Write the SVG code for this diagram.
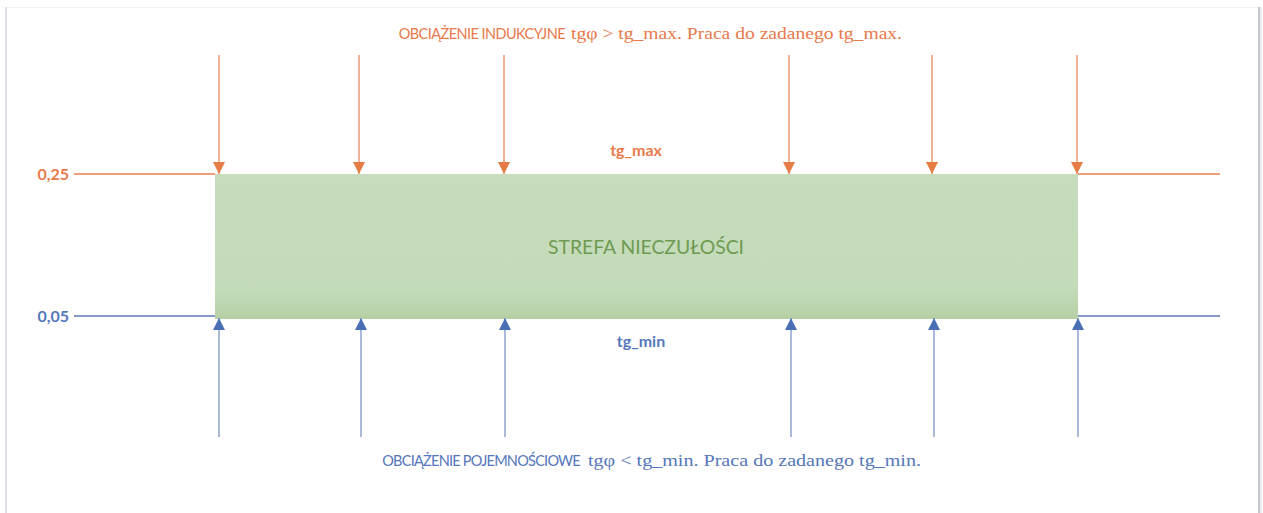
<svg xmlns="http://www.w3.org/2000/svg" width="1263" height="513" viewBox="0 0 1263 513">
<defs>
<linearGradient id="gz" x1="0" y1="0" x2="0" y2="1">
<stop offset="0" stop-color="#c6dcbc"/>
<stop offset="0.8" stop-color="#c4dbb9"/>
<stop offset="1" stop-color="#b5cfa4"/>
</linearGradient>
<marker id="ao" viewBox="0 0 12 12" markerWidth="12" markerHeight="12" refX="12" refY="6" orient="auto" markerUnits="userSpaceOnUse">
<path d="M0,0 L12,6 L0,12 Z" fill="#e57b45"/>
</marker>
<marker id="ab" viewBox="0 0 12 12" markerWidth="12" markerHeight="12" refX="12" refY="6" orient="auto" markerUnits="userSpaceOnUse">
<path d="M0,0 L12,6 L0,12 Z" fill="#4a6fb5"/>
</marker>
</defs>
<style>
.sans{font-family:Lato,"Open Sans","Liberation Sans",sans-serif}
.serif{font-family:"Liberation Serif",serif}
.or{fill:#e8794a}
.bl{fill:#5577bb}
.lo{stroke:#e8804f;stroke-width:1.5;fill:none}
.lb{stroke:#5a78b8;stroke-width:1.5;fill:none}
.ao{stroke:#eb9a78;stroke-width:1.5;marker-end:url(#ao)}
.ab{stroke:#8fa3cf;stroke-width:1.5;marker-end:url(#ab)}
</style>
<rect width="1263" height="513" fill="#ffffff"/>
<g id="frame">
<line x1="6" y1="7.5" x2="1258" y2="7.5" stroke="#f2f2f2" stroke-width="1"/>
<line x1="6" y1="7" x2="6" y2="513" stroke="#d3d6df" stroke-width="1.5"/>
<line x1="1259" y1="7" x2="1259" y2="513" stroke="#c4c8d2" stroke-width="2"/>
<line x1="1261" y1="7" x2="1261" y2="513" stroke="#e4e6eb" stroke-width="1.5"/>
</g>
<g id="zone">
<rect x="215" y="174" width="863" height="145" fill="url(#gz)"/>
<text x="646" y="254" text-anchor="middle" class="sans" font-size="19" fill="#6e9a52" textLength="196" lengthAdjust="spacingAndGlyphs">STREFA NIECZUŁOŚCI</text>
</g>
<g id="tgmax-line">
<line x1="74" y1="174" x2="215" y2="174" class="lo"/>
<line x1="1078" y1="174" x2="1220" y2="174" class="lo"/>
<text x="69" y="180" text-anchor="end" class="sans or" font-size="16" font-weight="bold">0,25</text>
<text x="636" y="156" text-anchor="middle" class="sans or" font-size="16" font-weight="bold">tg_max</text>
</g>
<g id="tgmin-line">
<line x1="74" y1="316" x2="215" y2="316" class="lb"/>
<line x1="1078" y1="316" x2="1220" y2="316" class="lb"/>
<text x="69" y="322" text-anchor="end" class="sans bl" font-size="16" font-weight="bold">0,05</text>
<text x="641" y="347" text-anchor="middle" class="sans bl" font-size="16" font-weight="bold">tg_min</text>
</g>
<g id="connectors">
<line x1="219" y1="55" x2="219" y2="174" class="ao"/>
<line x1="359" y1="55" x2="359" y2="174" class="ao"/>
<line x1="504" y1="55" x2="504" y2="174" class="ao"/>
<line x1="789" y1="55" x2="789" y2="174" class="ao"/>
<line x1="932" y1="55" x2="932" y2="174" class="ao"/>
<line x1="1077" y1="55" x2="1077" y2="174" class="ao"/>
<line x1="219" y1="437" x2="219" y2="318" class="ab"/>
<line x1="361" y1="437" x2="361" y2="318" class="ab"/>
<line x1="505" y1="437" x2="505" y2="318" class="ab"/>
<line x1="791" y1="437" x2="791" y2="318" class="ab"/>
<line x1="934" y1="437" x2="934" y2="318" class="ab"/>
<line x1="1078" y1="437" x2="1078" y2="318" class="ab"/>
</g>
<g id="label-top">
<text x="565" y="39" text-anchor="end" class="sans or" font-size="14.5" letter-spacing="-0.55">OBCIĄŻENIE INDUKCYJNE</text>
<text x="571" y="39" class="serif or" font-size="17" textLength="331" lengthAdjust="spacingAndGlyphs">tgφ &gt; tg_max.  Praca do zadanego tg_max.</text>
</g>
<g id="label-bottom">
<text x="580" y="466" text-anchor="end" class="sans bl" font-size="14.5" letter-spacing="-0.75">OBCIĄŻENIE POJEMNOŚCIOWE</text>
<text x="588" y="466" class="serif bl" font-size="17" textLength="333" lengthAdjust="spacingAndGlyphs">tgφ &lt; tg_min. Praca do zadanego tg_min.</text>
</g>
</svg>
